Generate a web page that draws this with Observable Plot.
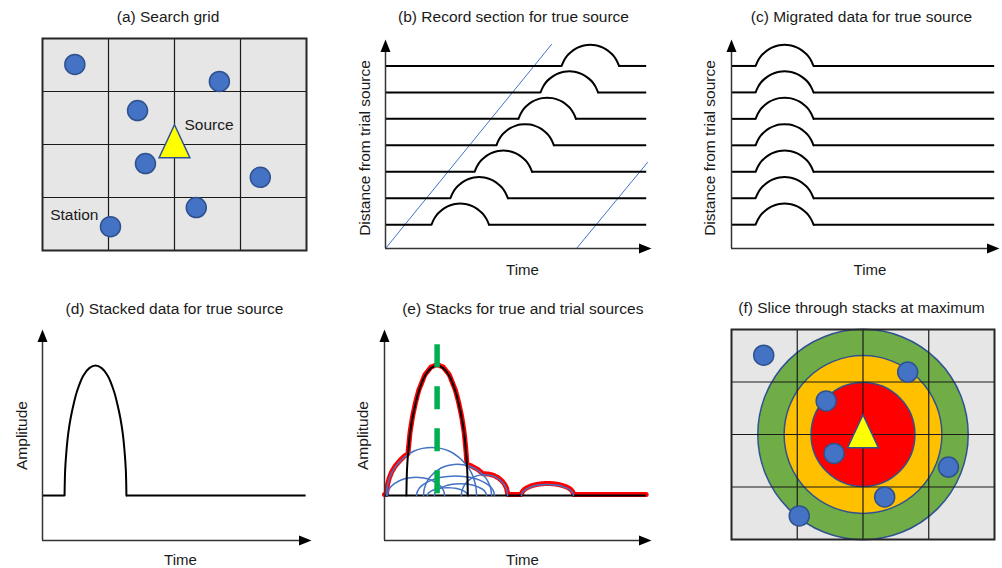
<!DOCTYPE html>
<html><head><meta charset="utf-8">
<script src="https://cdn.jsdelivr.net/npm/d3@7"></script>
<script src="https://cdn.jsdelivr.net/npm/@observablehq/plot@0.6"></script>
<style>
body{margin:0;background:#fff;}
#fig{position:relative;width:1002px;height:568px;overflow:hidden;}
#fig > div{position:absolute;}
#fig svg{overflow:visible;}
</style></head><body><div id="fig"></div>
<script>
// ---------------- data ----------------
const panelTitles = ["(a) Search grid", "(b) Record section for true source", "(c) Migrated data for true source",
  "(d) Stacked data for true source", "(e) Stacks for true and trial sources", "(f) Slice through stacks at maximum"];
const timeLabel = "Time";
const distanceLabel = "Distance from trial source";
const amplitudeLabel = "Amplitude";
const sourceLabel = "Source";
const stationLabel = "Station";

// search grid (cells 0..4 in both directions)
const gridLines = [1, 2, 3];
const stationX = [0.49, 2.68, 1.44, 1.56, 3.30, 2.33, 1.03];
const stationY = [3.51, 3.19, 2.64, 1.64, 1.38, 0.81, 0.45];
const sourceX = 2.0, sourceY = 2.0;
const sliceLevels = ["low", "medium", "high"];
const sliceRadii = [1.60, 1.20, 0.79];

// record section / migrated data
const traceDistances = [1, 2, 3, 4, 5, 6, 7];
const recordOnsets = [17.3, 24.4, 33.5, 41.7, 50.0, 58.3, 66.2];
const migratedOnsets = [9.0, 9.0, 9.0, 9.0, 9.0, 9.0, 9.0];
const pulseDuration = 21.6;
const pulseAmplitude = 0.8;
const traceEnd = 98.2;
const pulseShapeT = [0, 0.04, 0.095, 0.155, 0.24, 0.33, 0.41, 0.5, 0.59, 0.67, 0.76, 0.845, 0.905, 0.96, 1];
const pulseShapeA = [0, 0.25, 0.48, 0.64, 0.81, 0.92, 0.98, 1, 0.98, 0.92, 0.81, 0.64, 0.48, 0.25, 0];
const moveoutT = [[0, 62.4], [71.8, 98.5]];
const moveoutD = [[0.1, 7.81], [0.1, 3.35]];

// stacks
const stackOnset = 8.2, stackDuration = 23.0, stackPeak = 1.0;
const stackShapeT = [0, 0.01, 0.03, 0.06, 0.1, 0.15, 0.2, 0.3, 0.4, 0.5, 0.6, 0.7, 0.8, 0.85, 0.9, 0.94, 0.97, 0.99, 1];
const stackShapeA = [0, 0.2, 0.34, 0.48, 0.6, 0.71, 0.8, 0.92, 0.98, 1, 0.98, 0.92, 0.8, 0.71, 0.6, 0.48, 0.34, 0.2, 0];
const trialOnsets = [0.75, 14.6, 1.1, 12.0, 18.7, 28.8, 16.1, 51.3];
const trialEnds   = [34.5, 40.1, 22.5, 41.2, 38.2, 46.1, 31.1, 70.8];
const trialPeaks  = [0.37, 0.24, 0.14, 0.15, 0.09, 0.16, 0.06, 0.085];
const peakTime = 19.7;
const peakMarkerTop = 1.16;
const ampEnd = 98.0;

// ---------------- helpers ----------------
const FONT = "Liberation Sans, Arial, Helvetica, sans-serif";
const TXT = "#1a1a1a";
const AX = "#333";
const fig = document.getElementById("fig");
function place(svg, left, top) {
  const d = document.createElement("div");
  d.style.left = left + "px"; d.style.top = top + "px";
  d.appendChild(svg); fig.appendChild(d);
}
function pulsePoints(onset, dur, base, amp, sT, sA, id) {
  return sT.map((t, i) => ({t: onset + t * dur, v: base + sA[i] * amp, id}));
}
function shapeAt(sT, sA, u) {
  if (u <= 0 || u >= 1) return 0;
  let i = 1; while (sT[i] < u) i++;
  const f = (u - sT[i - 1]) / (sT[i] - sT[i - 1]);
  return sA[i - 1] + f * (sA[i] - sA[i - 1]);
}
const arrowHead = {draw(ctx, size) {
  const s = Math.sqrt(size / Math.PI);
  ctx.moveTo(0, 0); ctx.lineTo(-s, 2.5 * s); ctx.lineTo(s, 2.5 * s); ctx.closePath();
}};
const sourceSymbol = {draw(ctx, size) {
  const s = Math.sqrt(size / Math.PI);
  ctx.moveTo(0, -1.8 * s); ctx.lineTo(1.4 * s, 1.2 * s); ctx.lineTo(-1.4 * s, 1.2 * s); ctx.closePath();
}};
function axesMarks(xd, yd) {
  return [
    Plot.ruleX([xd[0]], {stroke: AX, strokeWidth: 1.5, insetTop: 8}),
    Plot.ruleY([yd[0]], {stroke: AX, strokeWidth: 1.5, insetRight: 8}),
    Plot.dot([0], {x: () => xd[0], y: () => yd[1], symbol: arrowHead, r: 5, fill: "#000"}),
    Plot.dot([0], {x: () => xd[1], y: () => yd[0], symbol: arrowHead, r: 5, rotate: 90, fill: "#000"})
  ];
}
function titleMark(t, dx, dy) {
  return Plot.text([t], {text: d => d, frameAnchor: "top", textAnchor: "middle", lineAnchor: "bottom", dx, dy,
    fontSize: 15.5, fontFamily: FONT, fill: TXT});
}
function timeMark(dx, dy) {
  return Plot.text([timeLabel], {text: d => d, frameAnchor: "bottom", textAnchor: "middle", lineAnchor: "bottom", dx, dy,
    fontSize: 15, fontFamily: FONT, fill: TXT});
}
function yLabelMark(t, dx, dy) {
  return Plot.text([t], {text: d => d, frameAnchor: "left", textAnchor: "middle", rotate: -90, lineAnchor: "bottom", dx, dy,
    fontSize: 15.5, fontFamily: FONT, fill: TXT});
}

const stations = stationX.map((x, i) => ({x, y: stationY[i]}));
const slices = sliceLevels.map((level, i) => ({level, radius: sliceRadii[i]}));

// ---------------- grid panels (a) and (f) ----------------
function gridPlot(m, withSlice, title, tdx, tdy) {
  const frameW = 334 - m.left - m.right;
  return Plot.plot({
    width: 334, height: 284,
    marginLeft: m.left, marginRight: m.right, marginTop: m.top, marginBottom: m.bottom,
    x: {domain: [0, 4], axis: null}, y: {domain: [0, 4], axis: null},
    r: {type: "linear", domain: [0, 4], range: [0, frameW]},
    color: {domain: sliceLevels, range: ["#70ad47", "#ffc000", "#ff0000"]},
    marks: [
      Plot.frame({fill: "#e6e6e6"}),
      withSlice ? Plot.dot(slices, {x: () => sourceX, y: () => sourceY, r: "radius", fill: "level",
        stroke: "#2f528f", strokeWidth: 1.5}) : null,
      Plot.ruleX(gridLines, {stroke: "#1a1a1a", strokeWidth: 1.2}),
      Plot.ruleY(gridLines, {stroke: "#1a1a1a", strokeWidth: 1.2}),
      Plot.dot(stations, {x: "x", y: "y", r: 10, fill: "#4472c4", stroke: "#2f528f", strokeWidth: 1.5}),
      Plot.dot([0], {x: () => sourceX, y: () => sourceY, r: 11, symbol: sourceSymbol,
        fill: "#ffff00", stroke: "#2f528f", strokeWidth: 1.5}),
      withSlice ? null : Plot.text([sourceLabel], {x: () => sourceX, y: () => sourceY, text: d => d,
        textAnchor: "start", lineAnchor: "bottom", dx: 10, dy: -15, fontSize: 15.5, fontFamily: FONT, fill: TXT}),
      withSlice ? null : Plot.text([stationLabel], {x: () => stationX[6], y: () => stationY[6], text: d => d,
        textAnchor: "end", lineAnchor: "bottom", dx: -12, dy: -6.5, fontSize: 15.5, fontFamily: FONT, fill: TXT}),
      Plot.frame({stroke: "#262626", strokeWidth: 2}),
      titleMark(title, tdx, tdy)
    ]
  });
}
place(gridPlot({left: 42, right: 28, top: 38, bottom: 34}, false, panelTitles[0], -6.5, -16.3), 0, 0);
place(gridPlot({left: 63, right: 8, top: 45, bottom: 29}, true, panelTitles[5], -1.5, -16.6), 668, 284);

// ---------------- trace panels (b) and (c) ----------------
function tracePlot(m, onsets, withMoveout, title, tdx, timeDx, ylDx) {
  const xd = [0, 100], yd = [0.1, 8.0];
  const pulses = traceDistances.flatMap((d, i) =>
    pulsePoints(onsets[i], pulseDuration, d, pulseAmplitude, pulseShapeT, pulseShapeA, i));
  const flats = traceDistances.flatMap((d, i) => [
    {t1: 0, t2: onsets[i], d}, {t1: onsets[i] + pulseDuration, t2: traceEnd, d}]);
  const moveouts = withMoveout ? moveoutT.flatMap((ts, k) => ts.map((t, j) => ({t, d: moveoutD[k][j], k}))) : [];
  return Plot.plot({
    width: 334, height: 284,
    marginLeft: m.left, marginRight: m.right, marginTop: m.top, marginBottom: m.bottom,
    x: {domain: xd, axis: null}, y: {domain: yd, axis: null},
    marks: [
      Plot.line(moveouts, {x: "t", y: "d", z: "k", stroke: "#4472c4", strokeWidth: 1}),
      Plot.ruleY(flats, {x1: "t1", x2: "t2", y: "d", stroke: "#000", strokeWidth: 2}),
      Plot.line(pulses, {x: "t", y: "v", z: "id", curve: "catmull-rom", stroke: "#000", strokeWidth: 2}),
      ...axesMarks(xd, yd),
      titleMark(title, tdx, -18),
      timeMark(timeDx, 26),
      yLabelMark(distanceLabel, ylDx, 4)
    ]
  });
}
place(tracePlot({left: 51, right: 17, top: 39, bottom: 36}, recordOnsets, true, panelTitles[1], -5, 4, -16), 334, 0);
place(tracePlot({left: 63, right: 3, top: 39, bottom: 36}, migratedOnsets, false, panelTitles[2], -4, 4.5, -16.5), 668, 0);

// ---------------- amplitude panels (d) and (e) ----------------
const ampYd = [-0.346, 1.277];
const stackPts = pulsePoints(stackOnset, stackDuration, 0, stackPeak, stackShapeT, stackShapeA, "stack");
function ampPlot(m, withTrials, title, tdx, timeDx, ylDx) {
  const xd = [0, 100];
  let marks = [];
  if (withTrials) {
    const arcs = trialOnsets.map((o, i) => ({onset: o, dur: trialEnds[i] - o, peak: trialPeaks[i], sT: stackShapeT, sA: stackShapeA}));
    const all = [...arcs, {onset: stackOnset, dur: stackDuration, peak: stackPeak, sT: stackShapeT, sA: stackShapeA}];
    const ts = d3.range(0, ampEnd, 0.2).concat([ampEnd]);
    const envelope = ts.map(t => ({t, v: d3.max(all, a => a.peak * shapeAt(a.sT, a.sA, (t - a.onset) / a.dur))}));
    const arcPts = arcs.flatMap((a, i) => pulsePoints(a.onset, a.dur, 0, a.peak, a.sT, a.sA, i));
    marks = [
      Plot.line(envelope, {x: "t", y: "v", stroke: "#ff0000", strokeWidth: 5, strokeLinejoin: "round", dy: -1}),
      Plot.ruleY([0], {x1: () => 0, x2: () => ampEnd, stroke: "#000", strokeWidth: 2}),
      Plot.line(arcPts, {x: "t", y: "v", z: "id", curve: "catmull-rom", stroke: "#4472c4", strokeWidth: 1.5}),
      Plot.line(stackPts, {x: "t", y: "v", curve: "catmull-rom", stroke: "#000", strokeWidth: 2}),
      Plot.ruleX([peakTime], {y1: () => peakMarkerTop, y2: () => 0, stroke: "#00b050", strokeWidth: 5.5,
        strokeDasharray: "23,19"})
    ];
  } else {
    marks = [
      Plot.ruleY([{t1: 0, t2: stackOnset}, {t1: stackOnset + stackDuration, t2: ampEnd}],
        {x1: "t1", x2: "t2", y: () => 0, stroke: "#000", strokeWidth: 2}),
      Plot.line(stackPts, {x: "t", y: "v", curve: "catmull-rom", stroke: "#000", strokeWidth: 2})
    ];
  }
  return Plot.plot({
    width: 334, height: 284,
    marginLeft: m.left, marginRight: m.right, marginTop: m.top, marginBottom: m.bottom,
    x: {domain: xd, axis: null}, y: {domain: ampYd, axis: null},
    marks: [
      ...marks,
      ...axesMarks(xd, ampYd),
      titleMark(title, tdx, -15.5),
      timeMark(timeDx, 24.5),
      yLabelMark(amplitudeLabel, ylDx, 0.5)
    ]
  });
}
place(ampPlot({left: 42, right: 23, top: 45, bottom: 28}, false, panelTitles[3], -2.5, 3.5, -15.5), 0, 284);
place(ampPlot({left: 50, right: 17, top: 45, bottom: 28}, true, panelTitles[4], 4.8, 4.5, -17), 334, 284);
</script></body></html>
